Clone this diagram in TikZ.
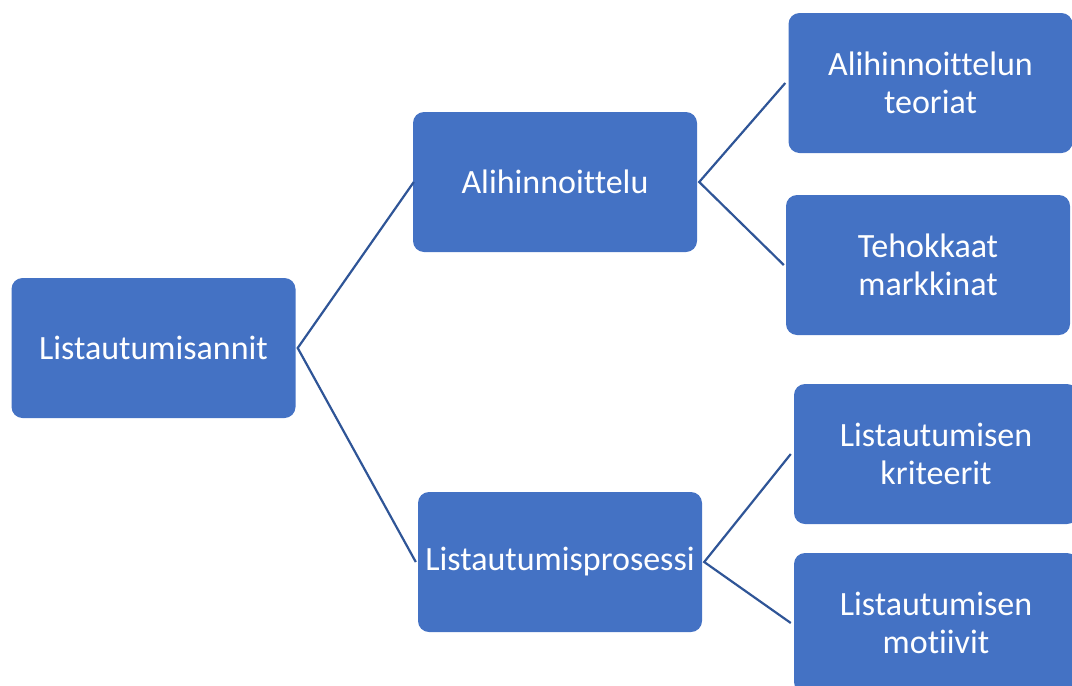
\documentclass[tikz,border=0pt]{standalone}
\usepackage{fontspec}
\setmainfont[Ligatures=NoCommon]{Carlito}
\definecolor{boxfill}{HTML}{4472C4}
\definecolor{linkcol}{HTML}{2F5597}
\begin{document}
\begin{tikzpicture}[x=1pt,y=-1pt,
  box/.style={fill=boxfill, draw=none, rounded corners=11pt, text=white,
    align=center, inner sep=0pt, minimum width=284pt, minimum height=140pt,
    font=\fontsize{34}{38}\selectfont},
  link/.style={draw=linkcol, line width=2.2pt}]
\useasboundingbox (0,0) rectangle (1072,686);
\clip (0,0) rectangle (1072,686);
\node[box] (root) at (153.5,348) {Listautumisannit};
\node[box] (ali) at (555,182) {Alihinnoittelu};
\node[box] (pros) at (560,562) {Listautumisprosessi};
\node[box] (teo) at (930.5,83) {Alihinnoittelun\\teoriat};
\node[box] (teh) at (928,265) {Tehokkaat\\markkinat};
\node[box] (kri) at (936,454) {Listautumisen\\kriteerit};
\node[box] (mot) at (936,623) {Listautumisen\\motiivit};
\draw[link] ([xshift=1pt]ali.west) -- ([xshift=2pt]root.east) -- ([xshift=-2pt]pros.west);
\draw[link] ([xshift=-3pt]teo.west) -- ([xshift=2pt]ali.east) -- ([xshift=-2pt]teh.west);
\draw[link] ([xshift=-3pt]kri.west) -- ([xshift=2pt]pros.east) -- ([xshift=-3pt]mot.west);
\end{tikzpicture}
\end{document}
